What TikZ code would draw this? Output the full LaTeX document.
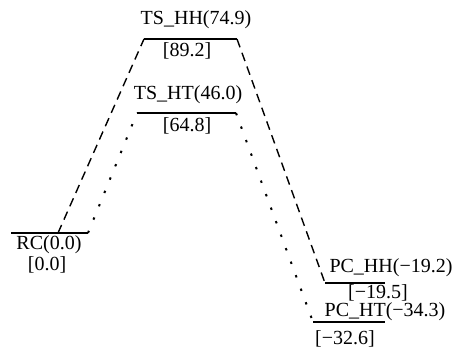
\documentclass[tikz,border=0pt]{standalone}
\usepackage{fontspec}
\setmainfont{Liberation Serif}
\begin{document}
\begin{tikzpicture}[x=0.5pt,y=-0.5pt,
  level/.style={line width=1.25pt},
  dashconn/.style={line width=0.7pt,dash pattern=on 4.4pt off 2.9pt},
  dotconn/.style={line width=1pt,dash pattern=on 1.2pt off 6pt},
  lbl/.style={inner sep=0pt,font=\fontsize{10}{12}\selectfont}]
\useasboundingbox (0,0) rectangle (454,349);
% level endpoints
\coordinate (rcL) at (11,233); \coordinate (rcR) at (88,233);
\coordinate (hhL) at (144,39); \coordinate (hhR) at (237,39);
\coordinate (htL) at (137,113); \coordinate (htR) at (236,113);
\coordinate (phL) at (325,283); \coordinate (phR) at (385,283);
\coordinate (ptL) at (313,322); \coordinate (ptR) at (385,322);
\coordinate (rcM) at (58,233);
% levels
\draw[level] (rcL) -- (rcR);
\draw[level] (hhL) -- (hhR);
\draw[level] (htL) -- (htR);
\draw[level] (phL) -- (phR);
\draw[level] (ptL) -- (ptR);
% connectors
\draw[dashconn] (rcM) -- (hhL);
\draw[dashconn] (hhR) -- (phL);
\draw[dotconn] (rcR) -- (htL);
\draw[dotconn] (htR) -- (ptL);
% labels
\node[lbl] (t1) at (196,20) {TS\_HH(74.9)};
\node[lbl] (t2) at (187,51) {[89.2]};
\node[lbl] (t3) at (188,95) {TS\_HT(46.0)};
\node[lbl] (t4) at (187,126) {[64.8]};
\node[lbl] (t5) at (49,245) {RC(0.0)};
\node[lbl] (t6) at (47,265) {[0.0]};
\node[lbl] (t7) at (391,268) {PC\_HH(−19.2)};
\node[lbl] (t8) at (378,293) {[−19.5]};
\node[lbl] (t9) at (385,312) {PC\_HT(−34.3)};
\node[lbl] (t10) at (345,339) {[−32.6]};
\end{tikzpicture}
\end{document}
